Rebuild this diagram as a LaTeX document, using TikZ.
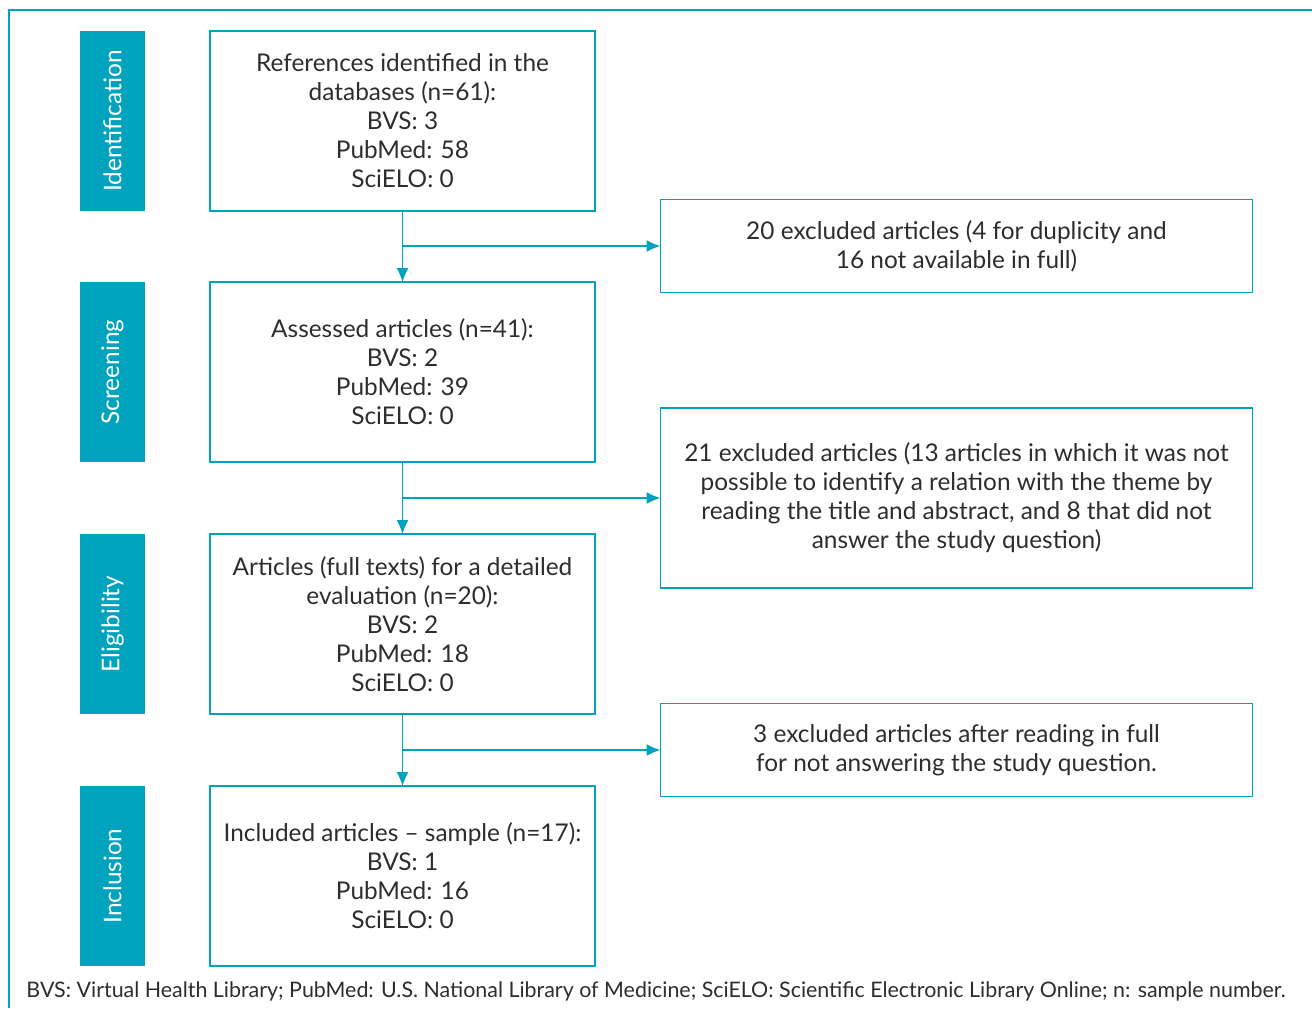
\documentclass[tikz,border=0pt]{standalone}
\usepackage{fontspec}
\setmainfont{Lato}
\usetikzlibrary{positioning,arrows.meta}
\definecolor{flowteal}{RGB}{0,163,189}
\definecolor{flowtext}{RGB}{45,45,45}

\begin{document}
\begin{tikzpicture}[node distance=35.5pt, font=\fontsize{12.2}{14.5}\selectfont, text=flowtext]
        \tikzstyle{stage}=[fill=flowteal, text=white, minimum width=32.5pt, minimum height=90pt, inner sep=0pt, outer sep=0pt]
        \tikzstyle{box}=[draw=flowteal, line width=0.9pt, minimum width=192.5pt, minimum height=90pt, align=center, inner sep=2pt, outer sep=0pt]
        \tikzstyle{outbox}=[box, minimum width=296pt, minimum height=46.5pt]
        \tikzstyle{flow}=[draw=flowteal, line width=0.7pt, -{Latex[length=7pt,width=6pt]}]

        \useasboundingbox (0,0) rectangle (656pt,-504pt);
        \draw[flowteal, line width=1pt] (4.5pt,-504pt) |- (656pt,-5pt);

        \node[box, anchor=north west] (ident) at (105pt,-15.5pt) {References identified in the\\databases (n=61):\\BVS: 3\\PubMed: 58\\SciELO: 0};
        \node[box] (screen) [below=of ident] {Assessed articles (n=41):\\BVS: 2\\PubMed: 39\\SciELO: 0};
        \node[box] (elig) [below=36pt of screen] {Articles (full texts) for a detailed\\evaluation (n=20):\\BVS: 2\\PubMed: 18\\SciELO: 0};
        \node[box] (incl) [below=36pt of elig] {Included articles -- sample (n=17):\\BVS: 1\\PubMed: 16\\SciELO: 0};

        \node[stage] (sid) [left=32.5pt of ident] {\rotatebox{90}{Identification}};
        \node[stage] (sscr) [left=32.5pt of screen] {\rotatebox{90}{Screening}};
        \node[stage] (selig) [left=32.5pt of elig] {\rotatebox{90}{Eligibility}};
        \node[stage] (sincl) [left=32.5pt of incl] {\rotatebox{90}{Inclusion}};

        \coordinate[below=17.5pt of ident.south] (b1);
        \coordinate[below=18pt of screen.south] (b2);
        \coordinate[below=18pt of elig.south] (b3);

        \node[outbox] (ex1) [right=129pt of b1] {20 excluded articles (4 for duplicity and\\16 not available in full)};
        \node[outbox, minimum height=90pt] (ex2) [right=129pt of b2] {21 excluded articles (13 articles in which it was not\\possible to identify a relation with the theme by\\reading the title and abstract, and 8 that did not\\answer the study question)};
        \node[outbox] (ex3) [right=129pt of b3] {3 excluded articles after reading in full\\for not answering the study question.};

        \draw[flow] (ident) -- (screen);
        \draw[flow] (screen) -- (elig);
        \draw[flow] (elig) -- (incl);
        \draw[flow] (b1) -- (ex1);
        \draw[flow] (b2) -- (ex2);
        \draw[flow] (b3) -- (ex3);

        \node[font=\fontsize{10.7}{13}\selectfont] (note) at (328pt,-495.5pt) {BVS: Virtual Health Library; PubMed: U.S. National Library of Medicine; SciELO: Scientific Electronic Library Online; n: sample number.};
    \end{tikzpicture}
\end{document}
